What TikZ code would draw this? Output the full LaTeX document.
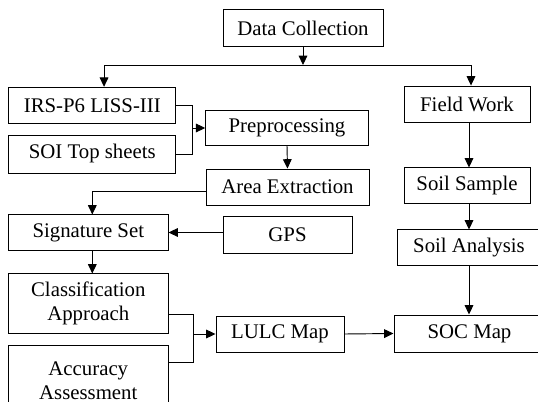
\documentclass[tikz,border=0pt]{standalone}
\usepackage{fontspec}
\setmainfont{Liberation Serif}
\usetikzlibrary{arrows.meta}

\begin{document}
\begin{tikzpicture}[x=0.75pt,y=-0.75pt,line width=0.7pt,
  box/.style={draw,inner sep=0pt,align=center,font=\fontsize{15.6}{18}\selectfont},
  >={Triangle[length=7pt,width=6.5pt]}]
\useasboundingbox (0,0) rectangle (538,402);
\clip (0,0) rectangle (538,402);
\node at (303,28)[box,minimum width=120pt,minimum height=27.4pt] (DC) {Data Collection};
\node at (92.3,105.3)[box,minimum width=125.3pt,minimum height=27pt] (IRS) {IRS-P6 LISS-III};
\node at (92.3,154)[box,minimum width=125.3pt,minimum height=28.5pt] (SOI) {SOI Top sheets};
\node at (287,128)[box,minimum width=121.9pt,minimum height=25.9pt] (Pre) {Preprocessing};
\node at (287.5,187)[box,minimum width=122.3pt,minimum height=27pt] (Area) {Area Extraction};
\node at (88.3,232.5)[box,minimum width=119.6pt,minimum height=26.3pt] (Sig) {Signature Set};
\node at (287.5,234.8)[box,minimum width=96.8pt,minimum height=28.1pt] (GPS) {GPS};
\node at (88.3,303.5)[box,minimum width=119.6pt,minimum height=44.3pt] (Class) {Classification\\Approach};
\node at (88.3,380.5)[box,minimum width=119.6pt,minimum height=52pt] (Acc) {Accuracy\\Assessment};
\node at (280,334)[box,minimum width=96pt,minimum height=27pt] (LULC) {LULC Map};
\node at (469.5,333.5)[box,minimum width=113.3pt,minimum height=27.8pt] (SOC) {SOC Map};
\node at (467,104.3)[box,minimum width=94.5pt,minimum height=27.4pt] (Field) {Field Work};
\node at (467,185.5)[box,minimum width=94.5pt,minimum height=26.3pt] (Sample) {Soil Sample};
\node at (469,247.5)[box,minimum width=108pt,minimum height=26.3pt] (Analysis) {Soil Analysis};
% junctions
\coordinate (j0) at (303,65);
\coordinate (j1) at (192,128);
\coordinate (j2) at (193,334);
\draw[->] (DC.south) -- (j0);
\draw[->] (j0) -| ([xshift=8.8pt]IRS.north);
\draw[->] (j0) -| ([xshift=3pt]Field.north);
\draw (IRS.east) -| (j1);
\draw (SOI.east) -| (j1);
\draw[->] (j1) -- (Pre.west);
\draw[->] (Pre.south) -- (Area.north);
\draw[->] ([yshift=-3.5pt]Area.west) -| ([xshift=3pt]Sig.north);
\draw[->] (Sig.east -| GPS.west) -- (Sig.east);
\draw[->] ([xshift=3pt]Sig.south) -- ([xshift=3pt]Class.north);
\draw ([yshift=-8.5pt]Class.east) -| (j2);
\draw ([yshift=13.5pt]Acc.east) -| (j2);
\draw[->] (j2) -- (LULC.west);
\draw[->] (LULC.east) -- (SOC.west);
\draw[->] ([xshift=1.5pt]Field.south) -- ([xshift=1.5pt]Sample.north);
\draw[->] ([xshift=1.5pt]Sample.south) -- (Analysis.north);
\draw[->] (Analysis.south) -- (Analysis.south |- SOC.north);
\end{tikzpicture}
\end{document}
